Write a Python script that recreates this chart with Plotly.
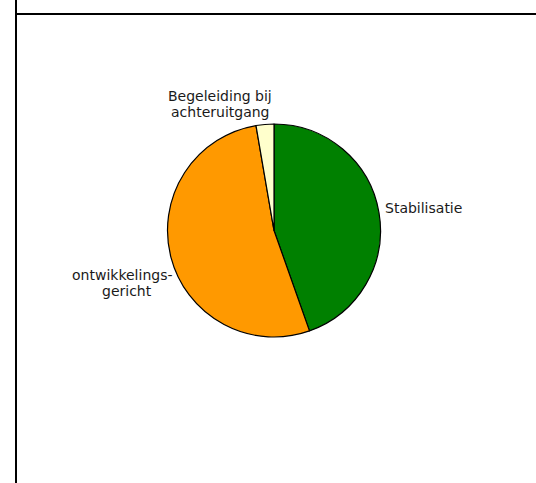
import plotly.graph_objects as go

# ---------- Data ----------
labels = ["Stabilisatie", "ontwikkelings-<br>gericht", "Begeleiding bij<br>achteruitgang"]
counts = [33, 39, 2]
colors = ["#008000", "#FF9900", "#FFFFCC"]

W, H = 536, 483

def px_x(x):
    return x / W

def px_y(y):
    return 1 - y / H

# pie centre / radius in pixels
cx, cy, r = 274, 230.5, 106.5

fig = go.Figure(
    go.Pie(
        labels=labels,
        values=counts,
        sort=False,
        direction="clockwise",
        rotation=0,
        marker=dict(colors=colors, line=dict(color="black", width=1.2)),
        textinfo="none",
        domain=dict(x=[px_x(cx - r), px_x(cx + r)], y=[px_y(cy + r), px_y(cy - r)]),
        hoverinfo="label+value+percent",
    )
)

# slice labels outside the pie, one annotation per line (tighter line spacing)
label_font = dict(family="DejaVu Sans", size=14, color="#1a1a1a")
LINE_H = 16
label_pos = [  # (y middle of first line, xanchor, per-line x)
    (207.8, "left", [383]),
    (275.2, "center", [122.2, 126.8]),
    (96.2, "center", [220.3, 220.5]),
]
for text, (ly, anchor, xs) in zip(labels, label_pos):
    for i, (line, lx) in enumerate(zip(text.split("<br>"), xs)):
        fig.add_annotation(
            text=line, x=px_x(lx), y=px_y(ly + i * LINE_H),
            xref="paper", yref="paper", xanchor=anchor, yanchor="middle",
            showarrow=False, font=label_font,
        )

# frame lines of the surrounding panel
fig.add_shape(type="line", xref="paper", yref="paper",
              x0=px_x(16), x1=px_x(16), y0=0, y1=1,
              line=dict(color="black", width=2))
fig.add_shape(type="line", xref="paper", yref="paper",
              x0=px_x(16), x1=1, y0=px_y(14), y1=px_y(14),
              line=dict(color="black", width=2))

fig.update_layout(
    width=W,
    height=H,
    showlegend=False,
    margin=dict(l=0, r=0, t=0, b=0),
    paper_bgcolor="white",
    plot_bgcolor="white",
    font=dict(family="DejaVu Sans"),
)

# drop the default 8px body margin so the figure fills the window
fig.write_html("out.html",
               config={"displayModeBar": False},
               post_script="document.body.style.margin='0';document.body.style.overflow='hidden';")
